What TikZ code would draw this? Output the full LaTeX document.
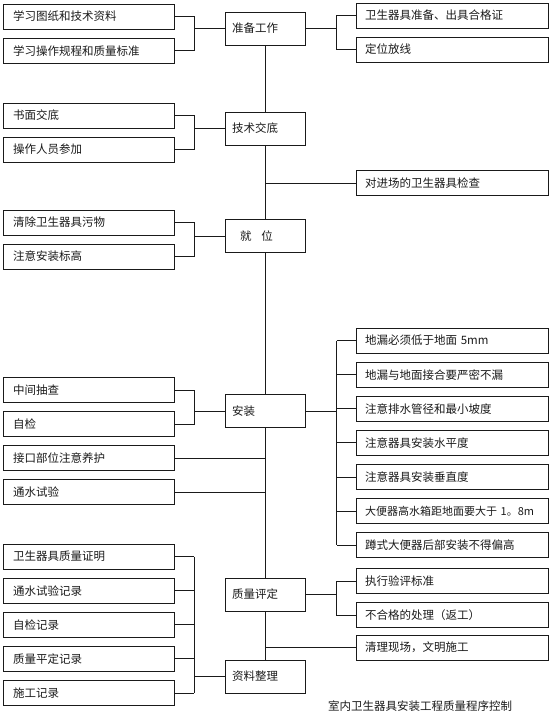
\documentclass[tikz,border=0pt]{standalone}
\usepackage{fontspec}
\setmainfont{Noto Sans CJK SC}
\usetikzlibrary{positioning}
\definecolor{ink}{HTML}{1A1A1A}

\begin{document}
\begin{tikzpicture}[x=1pt,y=-1pt,
  node distance=8.3pt,
  item/.style={draw=ink,line width=.8pt,text width=151pt,inner xsep=10pt,
    inner ysep=0pt,minimum height=25pt,align=left,text=ink,
    font=\fontsize{11.5}{13}\selectfont},
  stage/.style={item,text width=66pt,inner xsep=7pt,minimum height=33pt},
  check/.style={item,text width=174pt,inner xsep=9pt},
  link/.style={draw=ink,line width=.8pt}
]
\useasboundingbox (0,0) rectangle (554,725);
\coordinate (lb) at (194,0);
\coordinate (rb) at (336.7,0);

\node[stage] (prep) at (265,28.5) {准备工作};
\node[stage] (brief) at (265,128.5) {技术交底};
\node[stage] (place) at (265,236) {\hspace*{8pt}就\hspace{10pt}位};
\node[stage] (install) at (265,411) {安装};
\node[stage] (grade) at (265,594.5) {质量评定};
\node[stage] (files) at (265,676.5) {资料整理};

\node[item] (study1) at (88.5,16.5) {学习图纸和技术资料};
\node[item,below=of study1] (study2) {学习操作规程和质量标准};
\node[item] (brief1) at (88.5,115.5) {书面交底};
\node[item,below=of brief1] (brief2) {操作人员参加};
\node[item] (place1) at (88.5,222.5) {清除卫生器具污物};
\node[item,below=of place1] (place2) {注意安装标高};
\node[item] (inst1) at (88.5,390) {中间抽查};
\node[item,below=of inst1] (inst2) {自检};
\node[item,below=of inst2] (inst3) {接口部位注意养护};
\node[item,below=of inst3] (inst4) {通水试验};
\node[item] (file1) at (88.5,556.5) {卫生器具质量证明};
\node[item,below=of file1] (file2) {通水试验记录};
\node[item,below=of file2] (file3) {自检记录};
\node[item,below=of file3] (file4) {质量平定记录};
\node[item,below=of file4] (file5) {施工记录};

\node[check] (prep1) at (452,15.5) {卫生器具准备、出具合格证};
\node[check,below=of prep1] (prep2) {定位放线};
\node[check] (inspect) at (452,183) {对进场的卫生器具检查};
\node[check] (rule1) at (452,340.5) {地漏必须低于地面 5mm};
\node[check,below=of rule1] (rule2) {地漏与地面接合要严密不漏};
\node[check,below=of rule2] (rule3) {注意排水管径和最小坡度};
\node[check,below=of rule3] (rule4) {注意器具安装水平度};
\node[check,below=of rule4] (rule5) {注意器具安装垂直度};
\node[check,below=of rule5,font=\fontsize{11}{13}\selectfont] (rule6)
  {大便器高水箱距地面要大于 1。8m};
\node[check,below=of rule6] (rule7) {蹲式大便器后部安装不得偏高};
\node[check] (grade1) at (452,581) {执行验评标准};
\node[check,below=of grade1] (grade2) {不合格的处理（返工）};
\node[check] (tidy) at (452,647.5) {清理现场，文明施工};

\node[text=ink,font=\fontsize{11.5}{13}\selectfont] (title) at (420,706)
  {室内卫生器具安装工程质量程序控制};

\draw[link] (prep) -- (brief);
\draw[link] (brief) -- (place);
\draw[link] (place) -- (install);
\draw[link] (install) -- (grade);
\draw[link] (grade) -- (files);

\draw[link] (study1.east) -- (study1.east -| lb) -- (study2.east -| lb) -- (study2.east);
\draw[link] (prep.west) -- (prep.west -| lb);
\draw[link] (prep1.west) -- (prep1.west -| rb) -- (prep2.west -| rb) -- (prep2.west);
\draw[link] (prep.east) -- (prep.east -| rb);
\draw[link] (brief1.east) -- (brief1.east -| lb) -- (brief2.east -| lb) -- (brief2.east);
\draw[link] (brief.west) -- (brief.west -| lb);
\draw[link] (inspect.west) -- (inspect.west -| brief);
\draw[link] (place1.east) -- (place1.east -| lb) -- (place2.east -| lb) -- (place2.east);
\draw[link] (place.west) -- (place.west -| lb);
\draw[link] (inst1.east) -- (inst1.east -| lb) -- (inst2.east -| lb) -- (inst2.east);
\draw[link] (install.west) -- (install.west -| lb);
\draw[link] (inst3.east) -- (inst3.east -| install);
\draw[link] (inst4.east) -- (inst4.east -| install);
\draw[link] (rule1.west -| rb) -- (rule7.west -| rb);
\foreach \n in {1,...,7}
  \draw[link] (rule\n.west) -- (rule\n.west -| rb);
\draw[link] (install.east) -- (install.east -| rb);
\draw[link] (grade1.west) -- (grade1.west -| rb) -- (grade2.west -| rb) -- (grade2.west);
\draw[link] (grade.east) -- (grade.east -| rb);
\draw[link] (tidy.west) -- (tidy.west -| grade);
\draw[link] (file1.east -| lb) -- (file5.east -| lb);
\foreach \n in {1,...,5}
  \draw[link] (file\n.east) -- (file\n.east -| lb);
\draw[link] (files.west) -- (files.west -| lb);
\end{tikzpicture}
\end{document}
